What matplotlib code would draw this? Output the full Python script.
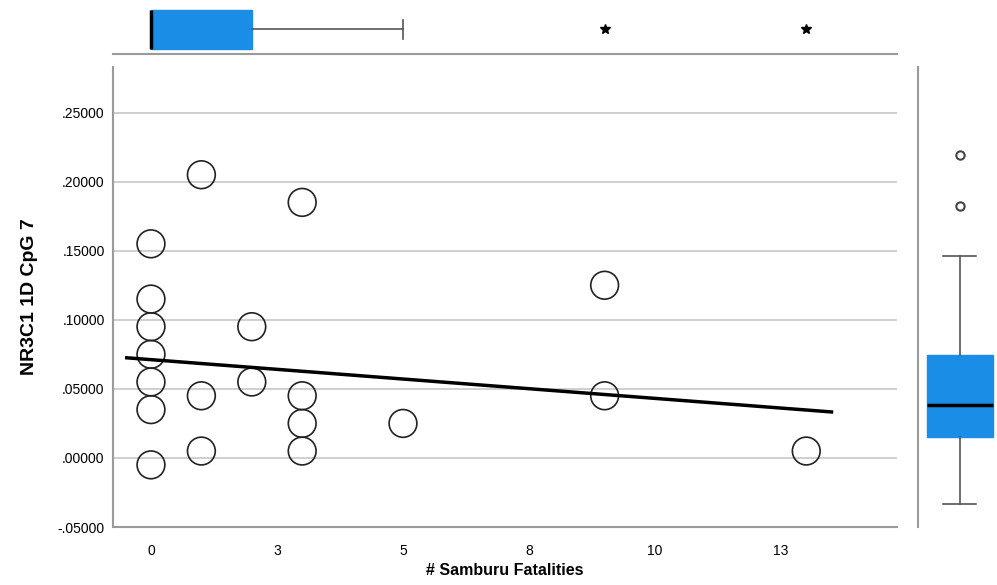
import matplotlib
matplotlib.use("Agg")
import matplotlib.pyplot as plt

# scatter data
fatalities = [0, 0, 0, 0, 0, 0, 0,
              1, 1, 1,
              2, 2,
              3, 3, 3, 3,
              5,
              9, 9,
              13]
cpg7 = [0.155, 0.115, 0.095, 0.075, 0.055, 0.035, -0.005,
        0.205, 0.045, 0.005,
        0.095, 0.055,
        0.185, 0.045, 0.025, 0.005,
        0.025,
        0.125, 0.045,
        0.005]

# fit line end points
fit_x = [-0.48, 13.5]
fit_y = [0.0725, 0.0333]

# box stats
top_box = dict(whislo=0, q1=0, med=0, q3=2, whishi=5, fliers=[9, 13])
right_box = dict(whislo=-0.0333, q1=0.0152, med=0.0384, q3=0.0747, whishi=0.1465,
                 fliers=[0.1826, 0.219])

xticks = [0, 2.5, 5, 7.5, 10, 12.5]
xticklabels = ["0", "3", "5", "8", "10", "13"]
yticks = [-0.05, 0.0, 0.05, 0.10, 0.15, 0.20, 0.25]
yticklabels = ["-.05000", ".00000", ".05000", ".10000", ".15000", ".20000", ".25000"]

blue = "#1a8de6"
grey = "#9a9a9a"
xlim = (-0.754, 14.8)
ylim = (-0.05, 0.283)

plt.rcParams["font.family"] = ["Liberation Sans", "DejaVu Sans"]

fig = plt.figure(figsize=(9.97, 5.85), dpi=100)
ax = fig.add_axes([0.1133, 0.0991, 0.7864, 0.7864])
ax_top = fig.add_axes([0.1133, 0.9077, 0.7864, 0.0923])
ax_right = fig.add_axes([0.9208, 0.0991, 0.0792, 0.7864])

# main scatter
ax.scatter(fatalities, cpg7, s=400, facecolors="none", edgecolors="#222222",
           linewidths=1.2, zorder=3)
ax.plot(fit_x, fit_y, color="black", lw=2.5, zorder=4)
ax.set_xlim(xlim)
ax.set_ylim(ylim)
ax.set_xticks(xticks)
ax.set_xticklabels(xticklabels, fontsize=10)
ax.set_yticks(yticks)
ax.set_yticklabels(yticklabels, fontsize=10)
ax.tick_params(axis="x", length=0, pad=12)
ax.tick_params(axis="y", length=0, pad=6)
ax.grid(axis="y", color="#cccccc", lw=1.3)
ax.set_axisbelow(True)
for s in ["top", "right"]:
    ax.spines[s].set_visible(False)
for s in ["left", "bottom"]:
    ax.spines[s].set_color(grey)
    ax.spines[s].set_linewidth(1.5)
ax.set_xlabel("# Samburu Fatalities", fontsize=11.5, fontweight="bold", labelpad=4)
ax.set_ylabel("NR3C1 1D CpG 7", fontsize=14, fontweight="bold", labelpad=14)

# top box
ax_top.bxp([top_box], positions=[0.454], widths=0.72, vert=False,
           patch_artist=True, showfliers=True,
           boxprops=dict(facecolor=blue, edgecolor=blue),
           whiskerprops=dict(color="#555555", lw=1.2),
           capprops=dict(color="#555555", lw=1.2),
           medianprops=dict(color="black", lw=2.5),
           flierprops=dict(marker="*", markersize=7, markerfacecolor="black",
                           markeredgecolor="black"))
ax_top.set_xlim(xlim)
ax_top.set_ylim(0, 1)
ax_top.set_xticks([])
ax_top.set_yticks([])
for s in ["top", "right", "left"]:
    ax_top.spines[s].set_visible(False)
ax_top.spines["bottom"].set_color(grey)
ax_top.spines["bottom"].set_linewidth(1.5)

# right box
ax_right.bxp([right_box], positions=[0.53], widths=0.835, patch_artist=True,
             showfliers=True,
             boxprops=dict(facecolor=blue, edgecolor=blue),
             whiskerprops=dict(color="#555555", lw=1.2),
             capprops=dict(color="#555555", lw=1.2),
             medianprops=dict(color="black", lw=2.5),
             flierprops=dict(marker="o", markersize=6, markerfacecolor="white",
                             markeredgecolor="#444444", markeredgewidth=1.5))
ax_right.set_ylim(ylim)
ax_right.set_xlim(0, 1)
ax_right.set_xticks([])
ax_right.set_yticks([])
for s in ["top", "right", "bottom"]:
    ax_right.spines[s].set_visible(False)
ax_right.spines["left"].set_color(grey)
ax_right.spines["left"].set_linewidth(1.5)

fig.savefig("out.png", dpi=100)
